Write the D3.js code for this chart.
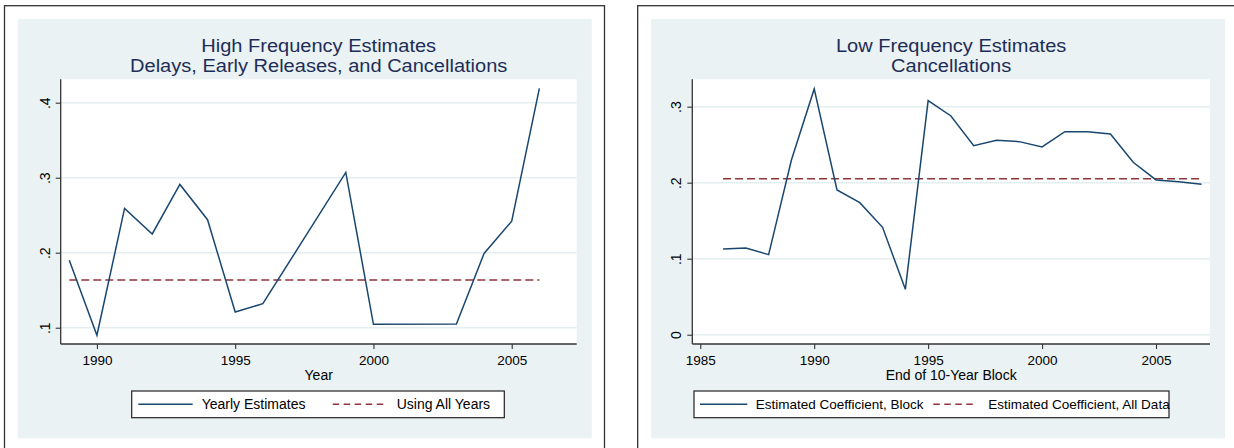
<!DOCTYPE html>
<html>
<head>
<meta charset="utf-8">
<script src="https://cdn.jsdelivr.net/npm/d3@7"></script>
<style>
  html, body { margin: 0; padding: 0; background: #ffffff; }
  svg { display: block; }
  text { font-family: "Liberation Sans", Arial, sans-serif; }
</style>
</head>
<body>
<svg id="chart" width="1234" height="448"></svg>
<script>
// ---------- DATA ----------
const hfYears  = [1989, 1990, 1991, 1992, 1993, 1994, 1995, 1996, 1999, 2000, 2003, 2004, 2005, 2006];
const hfValues = [0.190, 0.090, 0.259, 0.225, 0.291, 0.244, 0.121, 0.132, 0.307, 0.1045, 0.105, 0.199, 0.242, 0.419];
const hfAllYears = 0.1636;
const hfXTicks = [1990, 1995, 2000, 2005];
const hfYTicks = [0.1, 0.2, 0.3, 0.4];
const hfYTickLabels = [".1", ".2", ".3", ".4"];

const lfYears  = [1986, 1987, 1988, 1989, 1990, 1991, 1992, 1993, 1994, 1995, 1996,
                  1997, 1998, 1999, 2000, 2001, 2002, 2003, 2004, 2005, 2006, 2007];
const lfValues = [0.1128, 0.1141, 0.1053, 0.2299, 0.3233, 0.1904, 0.1737, 0.1413, 0.0597, 0.3079, 0.2878,
                  0.2487, 0.2558, 0.2540, 0.2470, 0.2671, 0.2671, 0.2641, 0.2268, 0.2036, 0.2013, 0.1979];
const lfAllData = 0.2053;
const lfXTicks = [1985, 1990, 1995, 2000, 2005];
const lfYTicks = [0, 0.1, 0.2, 0.3];
const lfYTickLabels = ["0", ".1", ".2", ".3"];

const hfTitle = ["High Frequency Estimates", "Delays, Early Releases, and Cancellations"];
const lfTitle = ["Low Frequency Estimates", "Cancellations"];
const hfXTitle = "Year";
const lfXTitle = "End of 10-Year Block";
const hfLegend = ["Yearly Estimates", "Using All Years"];
const lfLegend = ["Estimated Coefficient, Block", "Estimated Coefficient, All Data"];

// ---------- STYLE ----------
const BLUE = "#1a476f";
const RED = "#90353b";
const BG = "#eaf2f3";
const GRID = "#e4eef0";
const TITLE_COL = "#1e2d57";

const svg = d3.select("#chart");

function panel(cfg) {
  const g = svg.append("g");
  // outer frame
  g.append("rect")
    .attr("x", cfg.frame.x).attr("y", cfg.frame.y)
    .attr("width", cfg.frame.w).attr("height", cfg.frame.h)
    .attr("fill", "#ffffff").attr("stroke", "#333").attr("stroke-width", 1.3);
  // graph region background
  g.append("rect")
    .attr("x", cfg.bg.x).attr("y", cfg.bg.y)
    .attr("width", cfg.bg.w).attr("height", cfg.bg.h)
    .attr("fill", BG);

  const p = cfg.plot;
  const x = d3.scaleLinear().domain(cfg.xDomain).range([p.l, p.r]);
  const y = d3.scaleLinear().domain(cfg.yDomain).range([p.b, p.t]);

  // plot region
  g.append("rect").attr("x", p.l).attr("y", p.t)
    .attr("width", p.r - p.l).attr("height", p.b - p.t).attr("fill", "#ffffff");

  // gridlines
  g.append("g").selectAll("line").data(cfg.yTicks).join("line")
    .attr("x1", p.l).attr("x2", p.r)
    .attr("y1", d => y(d)).attr("y2", d => y(d))
    .attr("stroke", GRID).attr("stroke-width", 1.5);

  // y axis
  const yAxis = d3.axisLeft(y).tickValues(cfg.yTicks).tickSize(5)
    .tickFormat((d, i) => cfg.yTickLabels[i]);
  const ya = g.append("g").attr("transform", `translate(${p.l},0)`).call(yAxis);
  ya.select(".domain").attr("d", `M0,${p.t}V${p.b}`).attr("stroke", "#333").attr("stroke-width", 1.3);
  ya.selectAll(".tick line").attr("stroke", "#333").attr("stroke-width", 1.1);
  ya.selectAll(".tick text")
    .attr("x", null).attr("dy", null)
    .attr("transform", "translate(-11,0) rotate(-90)")
    .attr("text-anchor", "middle")
    .attr("font-size", 14).attr("fill", "#000")
    .attr("font-family", "Liberation Sans, Arial, sans-serif");

  // x axis
  const xAxis = d3.axisBottom(x).tickValues(cfg.xTicks).tickSize(5).tickFormat(d3.format("d"));
  const xa = g.append("g").attr("transform", `translate(0,${p.b})`).call(xAxis);
  xa.select(".domain").attr("d", `M${p.l},0H${p.r}`).attr("stroke", "#333").attr("stroke-width", 1.3);
  xa.selectAll(".tick line").attr("stroke", "#333").attr("stroke-width", 1.1);
  xa.selectAll(".tick text")
    .attr("y", 21).attr("dy", null)
    .attr("font-size", 13.5).attr("fill", "#000")
    .attr("font-family", "Liberation Sans, Arial, sans-serif");

  // reference (dashed) line
  const xs = cfg.years;
  g.append("line")
    .attr("x1", x(d3.min(xs))).attr("x2", x(d3.max(xs)))
    .attr("y1", y(cfg.allValue)).attr("y2", y(cfg.allValue))
    .attr("stroke", RED).attr("stroke-width", 1.5).attr("stroke-dasharray", "8,4");

  // series line
  const line = d3.line().x(d => x(d[0])).y(d => y(d[1]));
  g.append("path")
    .datum(xs.map((yr, i) => [yr, cfg.values[i]]))
    .attr("d", line).attr("fill", "none")
    .attr("stroke", BLUE).attr("stroke-width", 1.5).attr("stroke-linejoin", "miter");

  // titles
  const cx = (p.l + p.r) / 2;
  cfg.title.forEach((t, i) => {
    g.append("text")
      .attr("transform", `translate(${cx},${52.3 + i * 19.4}) scale(1.145,1)`)
      .attr("text-anchor", "middle").attr("font-size", 17.5).attr("fill", TITLE_COL)
      .text(t);
  });

  // x title
  g.append("text").attr("x", cx).attr("y", 380)
    .attr("text-anchor", "middle").attr("font-size", 14).attr("fill", "#000")
    .text(cfg.xTitle);

  // legend
  const L = cfg.legend;
  g.append("rect").attr("x", L.x).attr("y", 391).attr("width", L.w).attr("height", 26.7)
    .attr("fill", "#ffffff").attr("stroke", "#222").attr("stroke-width", 1.2);
  g.append("line").attr("x1", L.s1[0]).attr("x2", L.s1[1]).attr("y1", 404.3).attr("y2", 404.3)
    .attr("stroke", BLUE).attr("stroke-width", 1.5);
  g.append("line").attr("x1", L.s2[0]).attr("x2", L.s2[1]).attr("y1", 404.3).attr("y2", 404.3)
    .attr("stroke", RED).attr("stroke-width", 1.5).attr("stroke-dasharray", "6.5,4.5");
  g.append("text").attr("x", L.t1).attr("y", 409.3).attr("font-size", L.fs).attr("fill", "#000").text(cfg.legendLabels[0]);
  g.append("text").attr("x", L.t2).attr("y", 409.3).attr("font-size", L.fs).attr("fill", "#000").text(cfg.legendLabels[1]);
}

panel({
  frame: { x: 4.5, y: 5.7, w: 600, h: 446 },
  bg: { x: 17.7, y: 19, w: 574, h: 419.3 },
  plot: { l: 60.7, r: 576.7, t: 79.3, b: 344 },
  xDomain: [1988.69, 2007.35],
  yDomain: [0.0783, 0.4312],
  xTicks: hfXTicks, yTicks: hfYTicks, yTickLabels: hfYTickLabels,
  years: hfYears, values: hfValues, allValue: hfAllYears,
  title: hfTitle, xTitle: hfXTitle, legendLabels: hfLegend,
  legend: { x: 131.7, w: 372.6, s1: [138.3, 192.7], s2: [332.7, 387.3], t1: 201.7, t2: 396.7, fs: 14 }
});

panel({
  frame: { x: 637.7, y: 5.7, w: 600, h: 446 },
  bg: { x: 651, y: 19, w: 574, h: 419.3 },
  plot: { l: 692.3, r: 1210, t: 79.3, b: 344 },
  xDomain: [1984.65, 2007.37],
  yDomain: [-0.0122, 0.336],
  xTicks: lfXTicks, yTicks: lfYTicks, yTickLabels: lfYTickLabels,
  years: lfYears, values: lfValues, allValue: lfAllData,
  title: lfTitle, xTitle: lfXTitle, legendLabels: lfLegend,
  legend: { x: 694, w: 475, s1: [700, 747.3], s2: [933.3, 976], t1: 755.7, t2: 988.3, fs: 13.5 }
});
</script>
</body>
</html>
